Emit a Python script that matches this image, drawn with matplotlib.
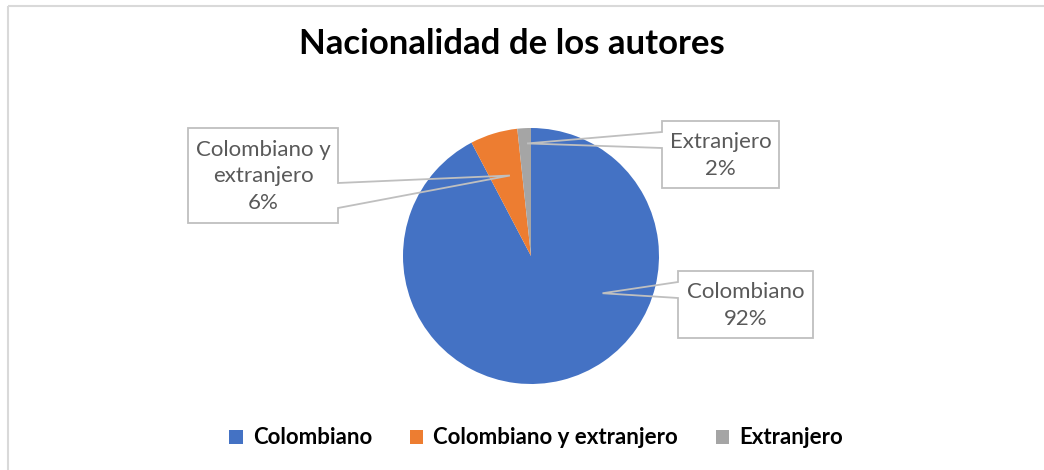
import matplotlib.pyplot as plt
import numpy as np
from matplotlib.patches import Polygon, Rectangle

# datos
categorias = ['Colombiano', 'Colombiano y extranjero', 'Extranjero']
autores = [108, 7, 2]
colores = ['#4472C4', '#ED7D31', '#A5A5A5']
titulo = 'Nacionalidad de los autores'

W, H = 1044, 470
plt.rcParams['font.family'] = ['Lato', 'DejaVu Sans']

fig = plt.figure(figsize=(W / 100, H / 100), dpi=100)
fig.patch.set_facecolor('white')

# pie centre / radius in image pixels
cx, cy, r = 531, 256, 128
ax = fig.add_axes([(cx - r) / W, (H - cy - r) / H, 2 * r / W, 2 * r / H])
wedges, _ = ax.pie(autores, colors=colores, startangle=90, counterclock=False,
                   radius=1, wedgeprops=dict(linewidth=0))
ax.set_xlim(-1, 1)
ax.set_ylim(-1, 1)
ax.set_aspect('equal')
ax.axis('off')

# overlay in pixel coords (y down)
ov = fig.add_axes([0, 0, 1, 1])
ov.set_xlim(0, W)
ov.set_ylim(H, 0)
ov.axis('off')
ov.add_patch(Rectangle((8, 6), W + 10, H + 10, fill=False, ec='#d9d9d9', lw=1.5))

ov.text(512, 44, titulo, ha='center', va='center', fontsize=25,
        fontweight='bold', color='black')

total = sum(autores)
pct = [f'{round(v / total * 100)}%' for v in autores]

# callouts: box (x0, y0, x1, y1), side of pointer, base y on that side, tip (angle, frac of r)
cajas = [(678, 271, 813, 338), (188, 128, 338, 223), (662, 121, 779, 188)]
lados = ['left', 'right', 'left']
bases = [(282, 298), (183, 208), (132, 148)]
puntas = [(-27.5, 0.63), (104.7, 0.65), (92.0, 0.88)]
textos = ['Colombiano', 'Colombiano y\nextranjero', 'Extranjero']

for (x0, y0, x1, y1), lado, (b1, b2), (ang, fr), t, p in zip(cajas, lados, bases, puntas, textos, pct):
    tx = cx + r * fr * np.cos(np.radians(ang))
    ty = cy - r * fr * np.sin(np.radians(ang))
    if lado == 'left':
        pts = [(x0, y0), (x1, y0), (x1, y1), (x0, y1), (x0, b2), (tx, ty), (x0, b1)]
    else:
        pts = [(x0, y0), (x1, y0), (x1, b1), (tx, ty), (x1, b2), (x1, y1), (x0, y1)]
    ov.add_patch(Rectangle((x0, y0), x1 - x0, y1 - y0, fc='white', ec='none'))
    ov.add_patch(Polygon(pts, closed=True, fill=False, ec='#bfbfbf', lw=1.3))
    ov.text((x0 + x1) / 2, (y0 + y1) / 2 + 1, t + '\n' + p, ha='center', va='center',
            fontsize=16, color='#595959', linespacing=1.4)

leg = fig.legend(wedges, categorias, loc='center', ncol=3,
                 bbox_to_anchor=(536 / W, 1 - 438 / H), frameon=False,
                 prop=dict(weight='bold', size=16), handlelength=0.6,
                 handleheight=0.6, handletextpad=0.45, columnspacing=1.7)

fig.savefig('out.png', dpi=100)
